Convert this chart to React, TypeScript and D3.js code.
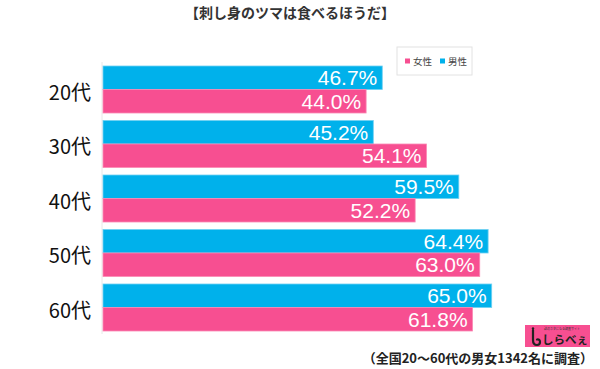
import React from "react";
import * as d3 from "d3";

const categories = ["20代", "30代", "40代", "50代", "60代"];
const maleValues = [46.7, 45.2, 59.5, 64.4, 65.0];
const femaleValues = [44.0, 54.1, 52.2, 63.0, 61.8];
const seriesNames = ["女性", "男性"];
const title = "【刺し身のツマは食べるほうだ】";
const footnote = "（全国20～60代の男女1342名に調査）";

const BLUE = "#00b1eb";
const PINK = "#f74f91";
const W = 600;
const H = 369;

export default function App() {
  const x0 = 103;
  const x = d3.scaleLinear().domain([0, 65]).range([x0, 491.7]);
  const y = d3
    .scaleBand<string>()
    .domain(categories)
    .range([62.25, 334.75])
    .paddingInner(0.1376)
    .paddingOuter(0.0688);
  const bw = y.bandwidth();
  const half = bw / 2;
  const jp = "'Noto Sans CJK JP', 'Noto Sans', sans-serif";
  const num = "'Liberation Sans', Arial, sans-serif";

  return (
    <svg
      width={W}
      height={H}
      style={{ position: "absolute", left: 0, top: 0, background: "#fff" }}
    >
      <rect x={0} y={0} width={W} height={H} fill="#fff" />
      <text
        x={290}
        y={18}
        textAnchor="middle"
        fontFamily={jp}
        fontWeight="bold"
        fontSize={14}
        fill="#333"
      >
        {title}
      </text>
      {/* legend */}
      <rect x={397} y={47} width={75} height={28} fill="#fff" stroke="#e2e2e2" />
      <rect x={405} y={58.5} width={5} height={5} fill={PINK} />
      <text x={413} y={64.5} fontFamily={jp} fontSize={9.5} fill="#444">
        {seriesNames[0]}
      </text>
      <rect x={440} y={58.5} width={5} height={5} fill={BLUE} />
      <text x={448} y={64.5} fontFamily={jp} fontSize={9.5} fill="#444">
        {seriesNames[1]}
      </text>
      {/* axis line */}
      <line x1={102} x2={102} y1={62} y2={334} stroke="#e8e8e8" strokeWidth={1} />
      {categories.map((c, i) => {
        const yy = y(c) as number;
        return (
          <g key={c}>
            <text
              x={91}
              y={yy + bw / 2 + 10}
              textAnchor="end"
              fontFamily={jp}
              fontSize={20}
              fill="#111"
            >
              {c}
            </text>
            <rect
              x={x(0)}
              y={yy}
              width={x(maleValues[i]) - x(0)}
              height={half}
              fill={BLUE}
              stroke="#6fd0f2"
              strokeWidth={0.8}
            />
            <rect
              x={x(0)}
              y={yy + half}
              width={x(femaleValues[i]) - x(0)}
              height={half}
              fill={PINK}
              stroke="#fa8ab5"
              strokeWidth={0.8}
            />
            <text
              x={x(maleValues[i]) - 5}
              y={yy + half / 2 + 7.5}
              textAnchor="end"
              fontFamily={num}
              fontSize={21}
              fill="#fff"
            >
              {maleValues[i].toFixed(1)}%
            </text>
            <text
              x={x(femaleValues[i]) - 5}
              y={yy + half + half / 2 + 7.5}
              textAnchor="end"
              fontFamily={num}
              fontSize={21}
              fill="#fff"
            >
              {femaleValues[i].toFixed(1)}%
            </text>
          </g>
        );
      })}
      {/* logo */}
      <rect x={525} y={325} width={65} height={22} fill={PINK} />
      <text x={562} y={329.5} textAnchor="middle" fontFamily={jp} fontSize={3} fill="#333">
        話のネタになる調査サイト
      </text>
      <path
        d="M533,330 L533,340 Q533,345 537,345 Q540,345 540,342 Q540,339 537,339.5"
        fill="none"
        stroke="#222"
        strokeWidth={2.2}
        strokeLinecap="round"
      />
      <circle cx={533} cy={328.5} r={1.2} fill="#222" />
      <text x={542} y={344} fontFamily={jp} fontWeight="bold" fontSize={11.5} fill="#222">
        しらべぇ
      </text>
      <text
        x={593}
        y={363}
        textAnchor="end"
        fontFamily={jp}
        fontWeight="bold"
        fontSize={13}
        fill="#222"
      >
        {footnote}
      </text>
    </svg>
  );
}
